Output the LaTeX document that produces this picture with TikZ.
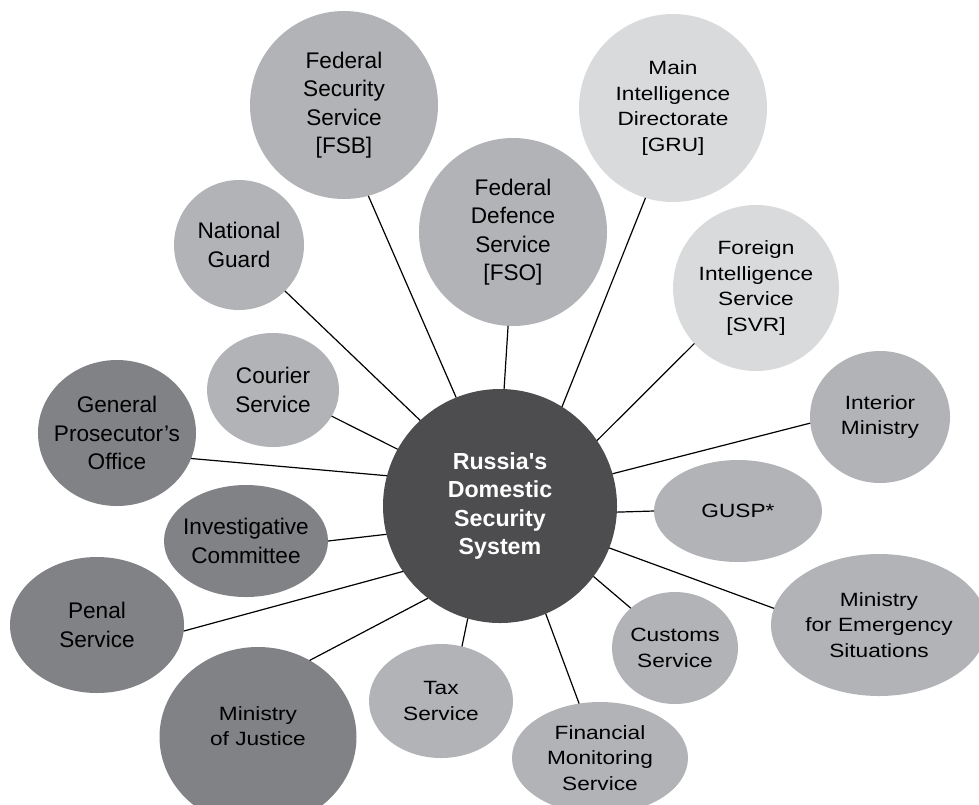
\documentclass[tikz,border=0pt]{standalone}
\usepackage{fontspec}
\setmainfont{Liberation Sans}
\newfontfamily\widefont{Liberation Sans}[FakeStretch=1.18]
\usetikzlibrary{shapes.geometric}

\definecolor{hubgrey}{HTML}{4D4D4F}
\definecolor{midgrey}{HTML}{B1B3B6}
\definecolor{palegrey}{HTML}{D9DADC}
\definecolor{darkgrey}{HTML}{808285}

\begin{document}
\begin{tikzpicture}[x=0.5pt,y=-0.5pt]
\tikzset{agency/.style = {shape=ellipse,inner sep=-30pt,outer sep=0pt,align=center,
           font=\fontsize{11.3}{14.2}\selectfont},
         wide/.style = {font=\widefont\fontsize{9.6}{12.8}\selectfont},
         midfill/.style = {fill=midgrey},
         palefill/.style = {fill=palegrey},
         darkfill/.style = {fill=darkgrey},
         link/.style = {draw=black,line width=0.6pt}}

\useasboundingbox (0,0) rectangle (979,804);

% hub
\node[shape=circle,fill=hubgrey,minimum size=117pt,inner sep=0pt,outer sep=0pt,align=center,
      text=white,font=\bfseries\fontsize{11.6}{14.2}\selectfont] (R) at (500,506)
      {Russia\textquotesingle s\\Domestic\\Security\\System};

% upper ring
\node[agency,midfill,minimum width=94pt,minimum height=94pt] (FSB) at (344,105) {Federal\\Security\\Service\\{[FSB]}};
\node[agency,wide,palefill,minimum width=94pt,minimum height=94pt] (GRU) at (673,108) {Main\\Intelligence\\Directorate\\{[GRU]}};
\node[agency,midfill,minimum width=94pt,minimum height=94pt] (FSO) at (513,232) {Federal\\Defence\\Service\\{[FSO]}};
\node[agency,wide,palefill,minimum width=83pt,minimum height=83pt] (SVR) at (756,288) {Foreign\\Intelligence\\Service\\{[SVR]}};
\node[agency,midfill,minimum width=65pt,minimum height=65pt] (NG) at (239,245) {National\\Guard};
\node[agency,midfill,minimum width=66pt,minimum height=57pt] (CS) at (273,390) {Courier\\Service};

% right side
\node[agency,wide,midfill,minimum width=70pt,minimum height=66pt] (IM) at (880,417) {Interior\\Ministry};
\node[agency,wide,midfill,minimum width=84pt,minimum height=51pt] (GUSP) at (738,511) {GUSP*};
\node[agency,wide,midfill,minimum width=108pt,minimum height=71pt] (MES) at (879,625) {Ministry\\for Emergency\\Situations};
\node[agency,wide,midfill,minimum width=63pt,minimum height=56pt] (CUS) at (675,648) {Customs\\Service};
\node[agency,wide,midfill,minimum width=88pt,minimum height=56pt] (FMS) at (600,758) {Financial\\Monitoring\\Service};
\node[agency,wide,midfill,minimum width=72pt,minimum height=57pt] (TS) at (441,701) {Tax\\Service};

% left side (text of MJ sits a little above its centre)
\node[agency,wide,darkfill,minimum width=98.5pt,minimum height=90pt,text depth=11pt] (MJ) at (258,737) {Ministry\\of Justice};
\node[agency,darkfill,minimum width=87pt,minimum height=68pt] (PS) at (97,625) {Penal\\Service};
\node[agency,darkfill,minimum width=82pt,minimum height=56pt] (IC) at (246,541) {Investigative\\Committee};
\node[agency,darkfill,minimum width=79pt,minimum height=73pt] (GPO) at (117,433) {General\\Prosecutor’s\\Office};

\path (R.112.6) edge [link] (FSB.285);
\path (R.58) edge [link] (GRU.253.5);
\path (R.88.5) edge [link] (FSO.267);
\path (R.34.4) edge [link] (SVR.222);
\path (R.133) edge [link] (NG.-45);
\path (R.151.9) edge [link] (CS.-24.2);
\path (R.16.9) edge [link] (IM.185);
\path (R.-3) edge [link] (GUSP.180);
\path (R.-21.5) edge [link] (MES.171.4);
\path (R.-37.5) edge [link] (CUS.138.4);
\path (R.-67.8) edge [link] (FMS.111);
\path (R.254) edge [link] (TS.69.7);
\path (R.232) edge [link] (MJ.56.6);
\path (R.214) edge [link] (PS.-4.6);
\path (R.194) edge [link] (IC.0);
\path (R.165.6) edge [link] (GPO.-19.4);
\end{tikzpicture}
\end{document}
